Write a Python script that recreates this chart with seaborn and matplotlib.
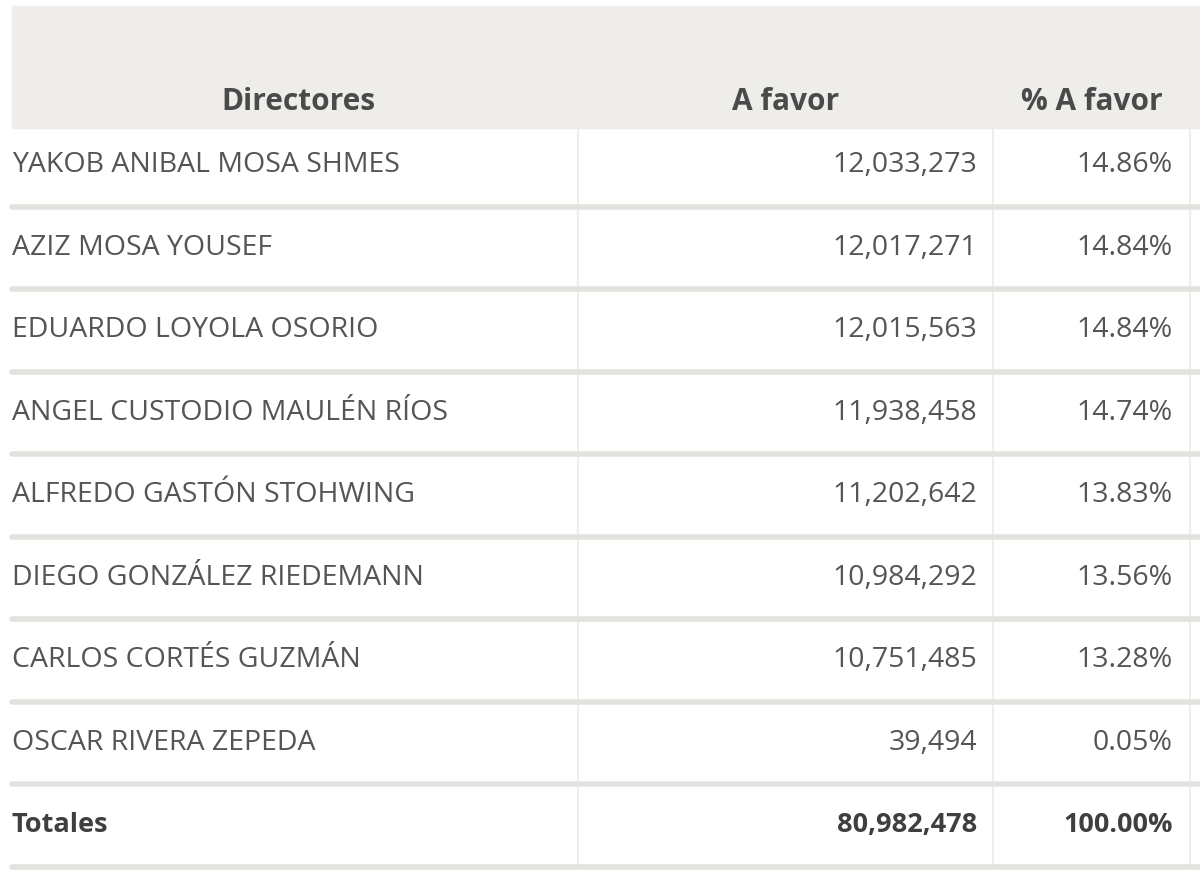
import matplotlib.pyplot as plt
import seaborn as sns

directores = ["YAKOB ANIBAL MOSA SHMES", "AZIZ MOSA YOUSEF", "EDUARDO LOYOLA OSORIO",
              "ANGEL CUSTODIO MAULÉN RÍOS", "ALFREDO GASTÓN STOHWING", "DIEGO GONZÁLEZ RIEDEMANN",
              "CARLOS CORTÉS GUZMÁN", "OSCAR RIVERA ZEPEDA"]
a_favor = ["12,033,273", "12,017,271", "12,015,563", "11,938,458", "11,202,642",
           "10,984,292", "10,751,485", "39,494"]
pct = ["14.86%", "14.84%", "14.84%", "14.74%", "13.83%", "13.56%", "13.28%", "0.05%"]
headers = ["Directores", "A favor", "% A favor"]
totales = ["Totales", "80,982,478", "100.00%"]

sns.set_style("white")
plt.rcParams['font.family'] = ['Open Sans', 'DejaVu Sans']

fig = plt.figure(figsize=(12, 8.81), dpi=100)
ax = fig.add_axes([0, 0, 1, 1])
ax.set_xlim(0, 1200)
ax.set_ylim(881, 0)
ax.axis("off")

txt = "#555555"
fs = 20.5
# bande d'en-tête
ax.axhspan(6, 128, xmin=12 / 1200, xmax=1, color="#efede9", zorder=0)
hx = [298, 786, 1092]
for x, h in zip(hx, headers):
    ax.text(x, 102, h, ha="center", va="center", fontsize=21.5, fontweight="bold", color="#4a4a4a")

rows = list(zip(directores, a_favor, pct)) + [tuple(totales)]
row_h = 82.5
top = 124
for i, (name, val, p) in enumerate(rows):
    yc = top + row_h * i + row_h / 2
    bold = i == len(rows) - 1
    fw = "bold" if bold else "normal"
    c = "#3f3f3f" if bold else txt
    f = fs - 1 if bold else fs
    ax.text(12, yc, name, ha="left", va="center", fontsize=f, fontweight=fw, color=c)
    ax.text(977, yc, val, ha="right", va="center", fontsize=f, fontweight=fw, color=c)
    ax.text(1173, yc, p, ha="right", va="center", fontsize=f, fontweight=fw, color=c)
    ax.plot([12, 1200], [top + row_h * (i + 1)] * 2, color="#e4e2de", lw=4, zorder=1)

for x in [578, 993, 1190]:
    ax.plot([x, x], [128, top + row_h * len(rows)], color="#ecebe8", lw=1.2, zorder=0)

fig.savefig("out.png", dpi=100)
